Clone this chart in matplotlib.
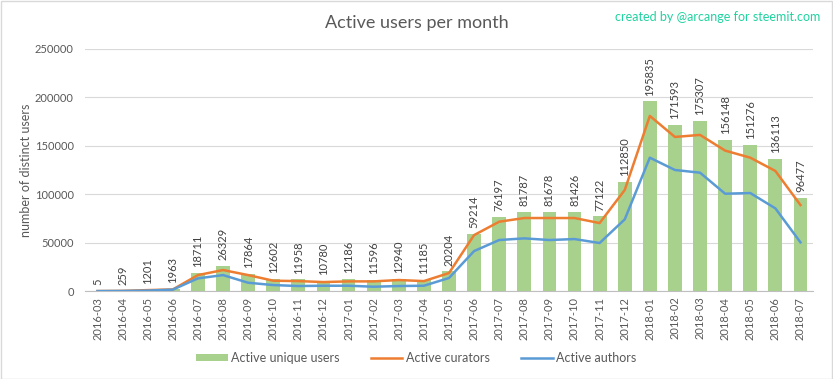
import matplotlib.pyplot as plt
import numpy as np

plt.rcParams['font.family'] = ['Lato', 'DejaVu Sans']

months = ['2016-03', '2016-04', '2016-05', '2016-06', '2016-07', '2016-08', '2016-09',
          '2016-10', '2016-11', '2016-12', '2017-01', '2017-02', '2017-03', '2017-04',
          '2017-05', '2017-06', '2017-07', '2017-08', '2017-09', '2017-10', '2017-11',
          '2017-12', '2018-01', '2018-02', '2018-03', '2018-04', '2018-05', '2018-06',
          '2018-07']
unique_users = [5, 259, 1201, 1963, 18711, 26329, 17864, 12602, 11958, 10780, 12186,
                11596, 12940, 11185, 20204, 59214, 76197, 81787, 81678, 81426, 77122,
                112850, 195835, 171593, 175307, 156148, 151276, 136113, 96477]
curators = [3, 200, 1000, 1700, 16500, 21700, 16500, 10700, 10300, 9300, 10000,
            10000, 11400, 10300, 18600, 57800, 71600, 75400, 75400, 75400, 70200,
            104300, 180800, 159100, 161200, 145000, 137700, 124000, 88800]
authors = [3, 100, 500, 1500, 13100, 16500, 8600, 6200, 5200, 5500, 5500,
           4500, 5200, 5500, 13500, 41300, 52700, 54400, 52700, 53700, 49600,
           74000, 137700, 125000, 122200, 100500, 101200, 85400, 50300]

txt = '#595959'
fig = plt.figure(figsize=(8.33, 3.79), dpi=100)
ax = fig.add_axes([0.102, 0.232, 0.874, 0.639])

x = np.arange(len(months))
bars = ax.bar(x, unique_users, width=0.55, color='#A9D18E', label='Active unique users', zorder=2)
l1, = ax.plot(x, curators, color='#ED7D31', lw=1.8, label='Active curators', zorder=3)
l2, = ax.plot(x, authors, color='#5B9BD5', lw=1.8, label='Active authors', zorder=3)

for xi, v in zip(x, unique_users):
    ax.text(xi, v + 6000, str(v), rotation=90, ha='center', va='bottom',
            fontsize=8, color='#404040')

ax.set_xlim(-0.5, len(months) - 0.5)
ax.set_ylim(0, 250000)
ax.set_yticks(range(0, 250001, 50000))
ax.set_xticks(x)
ax.set_xticklabels(months, rotation=90, fontsize=8, color=txt)
ax.tick_params(axis='y', labelsize=8, labelcolor=txt, length=0, pad=8)
ax.tick_params(axis='x', length=0, pad=4)
ax.grid(axis='y', color='#D9D9D9', lw=0.8, zorder=0)
for s in ['top', 'right', 'left']:
    ax.spines[s].set_visible(False)
ax.spines['bottom'].set_color('#BFBFBF')
ax.set_ylabel('number of distinct users', fontsize=9, color=txt)
ax.yaxis.set_label_coords(-0.073, 0.5)

fig.text(0.5, 0.94, 'Active users per month', ha='center', va='center',
         fontsize=13, color=txt)
fig.text(0.985, 0.955, 'created by @arcange for steemit.com', ha='right', va='center',
         fontsize=9, color='#1FD3A0')

fig.legend([bars, l1, l2], ['Active unique users', 'Active curators', 'Active authors'],
           loc='center', bbox_to_anchor=(0.5, 0.055), ncol=3, frameon=False,
           fontsize=9, labelcolor=txt, handlelength=2.5, handleheight=0.5,
           columnspacing=2.5, handletextpad=0.3)

fig.patches.append(plt.Rectangle((0.001, 0.001), 0.998, 0.997, transform=fig.transFigure,
                                 fill=False, edgecolor='#D9D9D9', lw=1))
fig.savefig('out.png', dpi=100)
